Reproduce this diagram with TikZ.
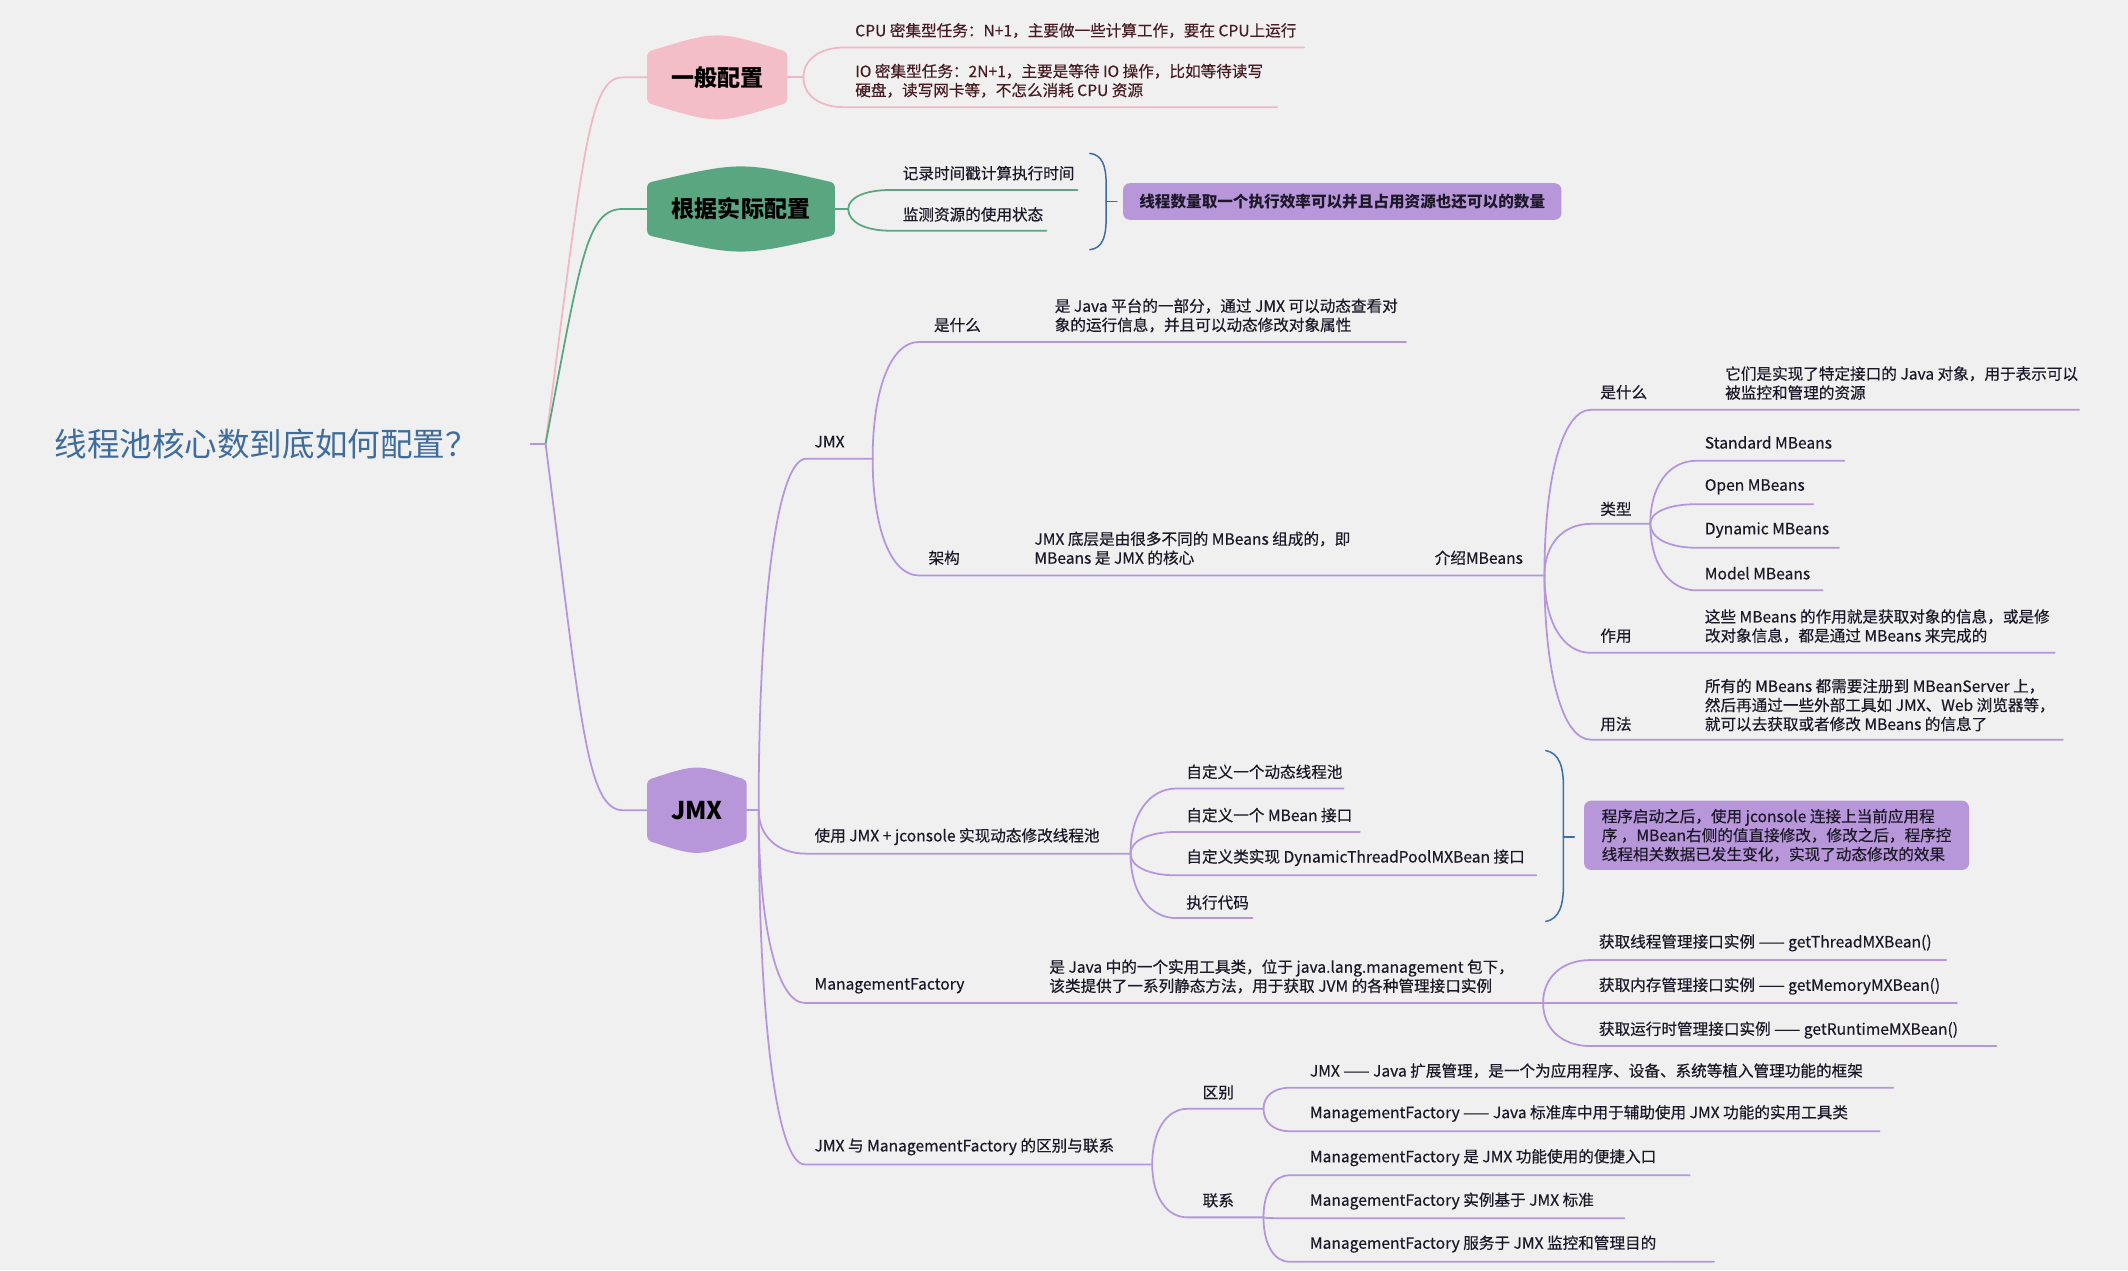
\documentclass[tikz,border=0pt]{standalone}
\usepackage{fontspec}
\setmainfont{Noto Sans CJK SC}
\newfontfamily\inkfont{Noto Sans CJK SC}[FakeBold=0.4]
\usepackage{tikz}
\usetikzlibrary{calc, backgrounds}
\usepackage{xcolor}
\definecolor{cBg}{RGB}{240,240,240}
\definecolor{cRoot}{RGB}{62,108,156}
\definecolor{cPink}{RGB}{244,190,200}
\definecolor{cPinkLine}{RGB}{240,184,196}
\definecolor{cGreen}{RGB}{90,166,128}
\definecolor{cPurple}{RGB}{183,151,218}
\definecolor{cPurpleLine}{RGB}{181,150,222}
\definecolor{cBrace}{RGB}{60,110,165}
\definecolor{cInk}{RGB}{28,24,40}
\definecolor{cMaroon}{RGB}{70,28,34}
\tikzset{
  basetext/.style={inner sep=0pt, anchor=west, align=left, text=cInk,
                   font=\inkfont\fontsize{11.5}{14}\selectfont},
  leaf/.style={basetext},
  pinkleaf/.style={basetext, text=cMaroon},
  topic/.style={basetext, text=black, align=center, anchor=center,
                font=\bfseries\fontsize{17}{19}\selectfont},
  roottext/.style={basetext, text=cRoot, font=\fontsize{24}{26}\selectfont},
  notebox/.style={basetext, fill=cPurple, rounded corners=5pt,
                  inner xsep=12pt, inner ysep=6pt},
  branch/.style={to path={.. controls ($(\tikztostart)!0.6!(\tikztostart|-\tikztotarget)$)
                   and ($(\tikztostart|-\tikztotarget)!0.4!(\tikztotarget)$) .. (\tikztotarget)}},
  pinkline/.style={draw=cPinkLine, line width=1.3pt, line cap=round},
  greenline/.style={draw=cGreen, line width=1.3pt, line cap=round},
  purpleline/.style={draw=cPurpleLine, line width=1.3pt, line cap=round},
  bracket/.style={draw=cBrace, line width=1.1pt, line cap=round}
}
% pillow shaped topic background: node, colour, bulge
\newcommand\pillow[3]{%
  \fill[#2, rounded corners=3pt] (#1.north west) .. controls ([yshift=#3]#1.north) .. (#1.north east)
    -- (#1.south east) .. controls ([yshift=-#3]#1.south) .. (#1.south west) -- cycle;}

\begin{document}
\begin{tikzpicture}[x=1pt, y=-1pt]

  \begin{pgfonlayer}{background}
    \fill[cBg] (0,0) rectangle (1568,936);
  \end{pgfonlayer}
  \useasboundingbox (0,0) rectangle (1568,936);

  % Root
  \node[roottext] (root) at (40,327) {线程池核心数到底如何配置？};
  \coordinate (r0) at (391,327);
  \coordinate (r1) at (402,327);
  \draw[purpleline] (r0) -- (r1);

  % Main topics
  \node[topic, minimum width=103pt, minimum height=37pt] (gen) at (528.5,57) {一般配置};
  \node[topic, minimum width=138pt, minimum height=38pt] (act) at (546,154) {根据实际配置};
  \node[topic, minimum width=73pt, minimum height=44pt,
        font=\bfseries\fontsize{18}{20}\selectfont] (jmx) at (513.5,597) {JMX};
  \begin{pgfonlayer}{background}
    \pillow{gen}{cPink}{16pt}
    \pillow{act}{cGreen}{16pt}
    \pillow{jmx}{cPurple}{12pt}
  \end{pgfonlayer}

  \coordinate (genIn) at (459,57);
  \coordinate (actIn) at (459,154);
  \coordinate (jmxIn) at (459,597);
  \draw[pinkline] (r1) .. controls (430,110) and (434,57) .. (genIn) -- (gen.west);
  \draw[greenline] (r1) .. controls (428,190) and (432,154) .. (actIn) -- (act.west);
  \draw[purpleline] (r1) .. controls (428,530) and (432,597) .. (jmxIn) -- (jmx.west);

  % General configuration
  \coordinate (g0) at (592,57);
  \coordinate (cpuL) at (622,35);   \coordinate (cpuR) at (961,35);
  \coordinate (ioL) at (622,79);    \coordinate (ioR) at (941,79);
  \draw[pinkline] (gen.east) -- (g0);
  \draw[pinkline] (g0) to[branch] (cpuL) -- (cpuR);
  \draw[pinkline] (g0) to[branch] (ioL) -- (ioR);
  \node[pinkleaf] (tCpu) at (630,22.5) {CPU 密集型任务：N+1，主要做一些计算工作，要在 CPU上运行};
  \node[pinkleaf] (tIo) at (630,59.5)
      {IO 密集型任务：2N+1，主要是等待 IO 操作，比如等待读写\\硬盘，读写网卡等，不怎么消耗 CPU 资源};

  % Configure by measurement
  \coordinate (a0) at (625,154);
  \coordinate (recL) at (656,140);  \coordinate (recR) at (794,140);
  \coordinate (monL) at (656,170);  \coordinate (monR) at (771,170);
  \draw[greenline] (act.east) -- (a0);
  \draw[greenline] (a0) to[branch] (recL) -- (recR);
  \draw[greenline] (a0) to[branch] (monL) -- (monR);
  \node[leaf] (tRec) at (665,127.6) {记录时间戳计算执行时间};
  \node[leaf] (tMon) at (665,158) {监测资源的使用状态};

  \coordinate (b1t) at (803,113);  \coordinate (b1b) at (803,184);
  \coordinate (b1m) at (815,148.6); \coordinate (b1tip) at (823,148.6);
  \draw[bracket] (b1t) .. controls (812,114) and (815,122) .. (815,135)
      -- (815,162) .. controls (815,175) and (812,183) .. (b1b);
  \draw[bracket] (b1m) -- (b1tip);
  \node[notebox, anchor=center, align=center, minimum width=320pt, minimum height=27pt,
        font=\bfseries\fontsize{11.5}{14}\selectfont] (sum1) at (989,148.5)
      {线程数量取一个执行效率可以并且占用资源也还可以的数量};

  % JMX
  \coordinate (j0) at (559,597);
  \draw[purpleline] (jmx.east) -- (j0);

  \coordinate (jaL) at (594,338);   \coordinate (ja) at (643,338);
  \coordinate (whatL) at (677,252); \coordinate (whatR) at (1036,252);
  \coordinate (archL) at (677,424); \coordinate (mb) at (1138,424);
  \draw[purpleline] (j0) to[branch] (jaL) -- (ja);
  \draw[purpleline] (ja) to[branch] (whatL) -- (whatR);
  \draw[purpleline] (ja) to[branch] (archL) -- (mb);
  \node[leaf] (tJmx) at (600,325.5) {JMX};
  \node[leaf] (tWhat) at (688,239.5) {是什么};
  \node[leaf] (tWhatD) at (777,232.5)
      {是 Java 平台的一部分，通过 JMX 可以动态查看对\\象的运行信息，并且可以动态修改对象属性};
  \node[leaf] (tArch) at (684,411) {架构};
  \node[leaf] (tArchD) at (762,404)
      {JMX 底层是由很多不同的 MBeans 组成的，即\\MBeans 是 JMX 的核心};
  \node[leaf] (tMb) at (1057,411) {介绍MBeans};

  % MBeans
  \coordinate (mwL) at (1172,302);  \coordinate (mwR) at (1532,302);
  \coordinate (tyL) at (1172,386);  \coordinate (ty) at (1216,386);
  \coordinate (usL) at (1172,481);  \coordinate (usR) at (1514,481);
  \coordinate (hwL) at (1172,545);  \coordinate (hwR) at (1520,545);
  \draw[purpleline] (mb) to[branch] (mwL) -- (mwR);
  \draw[purpleline] (mb) to[branch] (tyL) -- (ty);
  \draw[purpleline] (mb) to[branch] (usL) -- (usR);
  \draw[purpleline] (mb) to[branch] (hwL) -- (hwR);
  \node[leaf] (tMw) at (1179,289) {是什么};
  \node[leaf] (tMwD) at (1271,282.3)
      {它们是实现了特定接口的 Java 对象，用于表示可以\\被监控和管理的资源};
  \node[leaf] (tTy) at (1179,375) {类型};
  \node[leaf] (tUs) at (1179,468.4) {作用};
  \node[leaf] (tUsD) at (1256,461.4)
      {这些 MBeans 的作用就是获取对象的信息，或是修\\改对象信息，都是通过 MBeans 来完成的};
  \node[leaf] (tHw) at (1179,533.5) {用法};
  \node[leaf] (tHwD) at (1256,519.5)
      {所有的 MBeans 都需要注册到 MBeanServer 上，\\然后再通过一些外部工具如 JMX、Web 浏览器等，\\就可以去获取或者修改 MBeans 的信息了};

  \coordinate (stdL) at (1250,339.5); \coordinate (stdR) at (1359,339.5);
  \coordinate (opnL) at (1250,371.5); \coordinate (opnR) at (1336,371.5);
  \coordinate (dynL) at (1250,403.6); \coordinate (dynR) at (1355,403.6);
  \coordinate (mdlL) at (1250,435);   \coordinate (mdlR) at (1343,435);
  \draw[purpleline] (ty) to[branch] (stdL) -- (stdR);
  \draw[purpleline] (ty) to[branch] (opnL) -- (opnR);
  \draw[purpleline] (ty) to[branch] (dynL) -- (dynR);
  \draw[purpleline] (ty) to[branch] (mdlL) -- (mdlR);
  \node[leaf] (tStd) at (1256,326) {Standard MBeans};
  \node[leaf] (tOpn) at (1256,358.6) {Open MBeans};
  \node[leaf] (tDyn) at (1256,390.6) {Dynamic MBeans};
  \node[leaf] (tMdl) at (1256,422.4) {Model MBeans};

  % JMX + jconsole
  \coordinate (jcL) at (594,629);   \coordinate (jc) at (833,629);
  \draw[purpleline] (j0) to[branch] (jcL) -- (jc);
  \node[leaf] (tJc) at (600,616.5) {使用 JMX + jconsole 实现动态修改线程池};
  \coordinate (c1L) at (867,581);   \coordinate (c1R) at (990,581);
  \coordinate (c2L) at (867,613);   \coordinate (c2R) at (1002,613);
  \coordinate (c3L) at (867,645);   \coordinate (c3R) at (1132,645);
  \coordinate (c4L) at (867,676.5); \coordinate (c4R) at (923,676.5);
  \draw[purpleline] (jc) to[branch] (c1L) -- (c1R);
  \draw[purpleline] (jc) to[branch] (c2L) -- (c2R);
  \draw[purpleline] (jc) to[branch] (c3L) -- (c3R);
  \draw[purpleline] (jc) to[branch] (c4L) -- (c4R);
  \node[leaf] (tC1) at (874,568.7) {自定义一个动态线程池};
  \node[leaf] (tC2) at (874,600.6) {自定义一个 MBean 接口};
  \node[leaf] (tC3) at (874,632) {自定义类实现 DynamicThreadPoolMXBean 接口};
  \node[leaf] (tC4) at (874,665) {执行代码};

  \coordinate (b2t) at (1139,553);  \coordinate (b2b) at (1139,679);
  \coordinate (b2m) at (1152,616.6); \coordinate (b2tip) at (1160,616.6);
  \draw[bracket] (b2t) .. controls (1149,555) and (1152,565) .. (1152,580)
      -- (1152,652) .. controls (1152,667) and (1149,677) .. (b2b);
  \draw[bracket] (b2m) -- (b2tip);
  \node[notebox, inner xsep=13pt] (sum2) at (1167,615.5)
      {程序启动之后，使用 jconsole 连接上当前应用程\\序 ，MBean右侧的值直接修改，修改之后，程序控\\线程相关数据已发生变化，实现了动态修改的效果};

  % ManagementFactory
  \coordinate (mfL) at (593,739);   \coordinate (mf) at (1137,739);
  \draw[purpleline] (j0) to[branch] (mfL) -- (mf);
  \node[leaf] (tMf) at (600,726.4) {ManagementFactory};
  \node[leaf] (tMfD) at (773,719.5)
      {是 Java 中的一个实用工具类，位于 java.lang.management 包下，\\该类提供了一系列静态方法，用于获取 JVM 的各种管理接口实例};
  \coordinate (m1L) at (1172,707.4); \coordinate (m1R) at (1434,707.4);
  \coordinate (m2L) at (1172,739);   \coordinate (m2R) at (1442,739);
  \coordinate (m3L) at (1172,770.8); \coordinate (m3R) at (1471,770.8);
  \draw[purpleline] (mf) to[branch] (m1L) -- (m1R);
  \draw[purpleline] (mf) to[branch] (m2L) -- (m2R);
  \draw[purpleline] (mf) to[branch] (m3L) -- (m3R);
  \node[leaf] (tM1) at (1178,694.7) {获取线程管理接口实例 —— getThreadMXBean()};
  \node[leaf] (tM2) at (1178,726.6) {获取内存管理接口实例 —— getMemoryMXBean()};
  \node[leaf] (tM3) at (1178,759) {获取运行时管理接口实例 —— getRuntimeMXBean()};

  % JMX vs ManagementFactory
  \coordinate (dfL) at (593,858);   \coordinate (df) at (849,858);
  \draw[purpleline] (j0) to[branch] (dfL) -- (df);
  \node[leaf] (tDf) at (600,845) {JMX 与 ManagementFactory 的区别与联系};
  \coordinate (d1L) at (875,817);   \coordinate (d1) at (931,817);
  \coordinate (d2L) at (875,897);   \coordinate (d2) at (931,897);
  \draw[purpleline] (df) to[branch] (d1L) -- (d1);
  \draw[purpleline] (df) to[branch] (d2L) -- (d2);
  \node[leaf] (tD1) at (886,805) {区别};
  \node[leaf] (tD2) at (886,884.5) {联系};
  \coordinate (d11L) at (950,801.5); \coordinate (d11R) at (1395,801.5);
  \coordinate (d12L) at (950,833.5); \coordinate (d12R) at (1385,833.5);
  \coordinate (d21L) at (950,866);   \coordinate (d21R) at (1245,866);
  \coordinate (d22L) at (950,897.7); \coordinate (d22R) at (1197,897.7);
  \coordinate (d23L) at (950,929.7); \coordinate (d23R) at (1263,929.7);
  \draw[purpleline] (d1) to[branch] (d11L) -- (d11R);
  \draw[purpleline] (d1) to[branch] (d12L) -- (d12R);
  \draw[purpleline] (d2) to[branch] (d21L) -- (d21R);
  \draw[purpleline] (d2) to[branch] (d22L) -- (d22R);
  \draw[purpleline] (d2) to[branch] (d23L) -- (d23R);
  \node[leaf] (tD11) at (965,789) {JMX —— Java 扩展管理，是一个为应用程序、设备、系统等植入管理功能的框架};
  \node[leaf] (tD12) at (965,820.5) {ManagementFactory —— Java 标准库中用于辅助使用 JMX 功能的实用工具类};
  \node[leaf] (tD21) at (965,853) {ManagementFactory 是 JMX 功能使用的便捷入口};
  \node[leaf] (tD22) at (965,885) {ManagementFactory 实例基于 JMX 标准};
  \node[leaf] (tD23) at (965,916.7) {ManagementFactory 服务于 JMX 监控和管理目的};

\end{tikzpicture}
\end{document}
